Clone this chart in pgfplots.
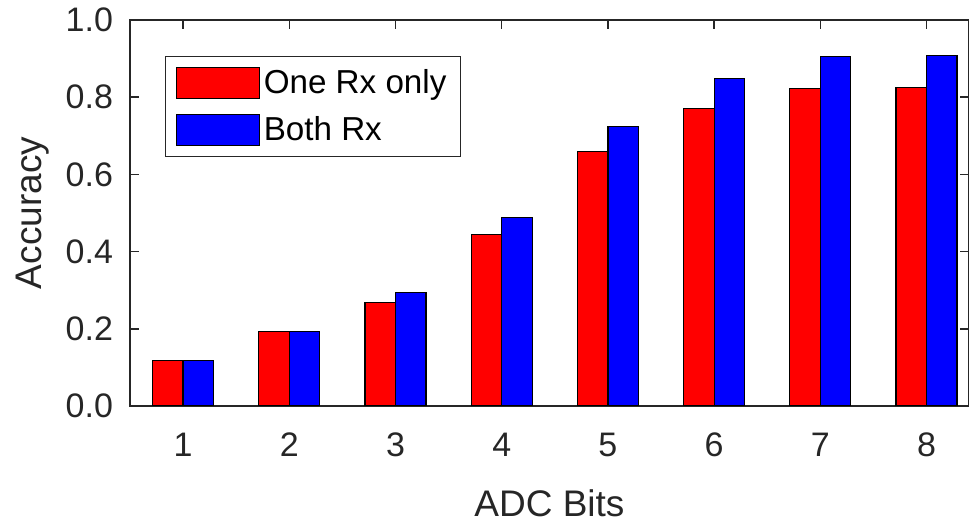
\documentclass[border=0pt]{standalone}
\usepackage{pgfplots}
\pgfplotsset{compat=1.18}
\usepackage{fontspec}
\setmainfont{Liberation Sans}
\definecolor{axgray}{RGB}{38,38,38}

\begin{document}
\begin{tikzpicture}
\path[use as bounding box] (-65pt,-56pt) rectangle (419.5pt,203pt);
\begin{axis}[
  scale only axis,
  width=419.5pt, height=193pt,
  at={(0,0)}, anchor=south west,
  xmin=0.5, xmax=8.4,
  ymin=0, ymax=1,
  ybar=0pt, bar width=15.25pt,
  xtick={1,2,3,4,5,6,7,8},
  ytick={0,0.2,0.4,0.6,0.8,1.0},
  yticklabel style={xshift=-5pt,/pgf/number format/.cd,fixed,fixed zerofill,precision=1},
  /pgf/number format/assume math mode=true,
  tick align=inside,
  major tick length=4.5pt,
  axis line style={axgray, line width=0.75pt},
  every tick/.style={axgray, line width=0.75pt},
  tick label style={font=\fontsize{17}{20}\selectfont, text=axgray},
  xticklabel style={yshift=-10pt},
  label style={font=\fontsize{18.5}{22}\selectfont, text=axgray},
  xlabel={ADC Bits},
  ylabel={Accuracy},
  xlabel style={inner sep=0pt, yshift=-12.5pt},
  ylabel style={yshift=1.5pt},
  legend cell align=left,
  legend style={
    at={(0.0417,0.9075)}, anchor=north west,
    draw=axgray, line width=0.6pt,
    font=\fontsize{16.6}{19}\selectfont,
    inner xsep=5pt, inner ysep=4.5pt,
    row sep=6pt,
  },
  legend image code/.code={\draw[#1,draw=black,line width=0.6pt] (0pt,-7.75pt) rectangle (41.5pt,7.75pt);},
]
\addplot[fill=red, draw=black, line width=0.6pt] coordinates {
  (1,0.117) (2,0.192) (3,0.268) (4,0.444) (5,0.660) (6,0.771) (7,0.823) (8,0.826)};
\addplot[fill=blue, draw=black, line width=0.6pt] coordinates {
  (1,0.117) (2,0.192) (3,0.295) (4,0.488) (5,0.725) (6,0.849) (7,0.905) (8,0.908)};
\legend{One Rx only, Both Rx}
\end{axis}
\end{tikzpicture}
\end{document}
